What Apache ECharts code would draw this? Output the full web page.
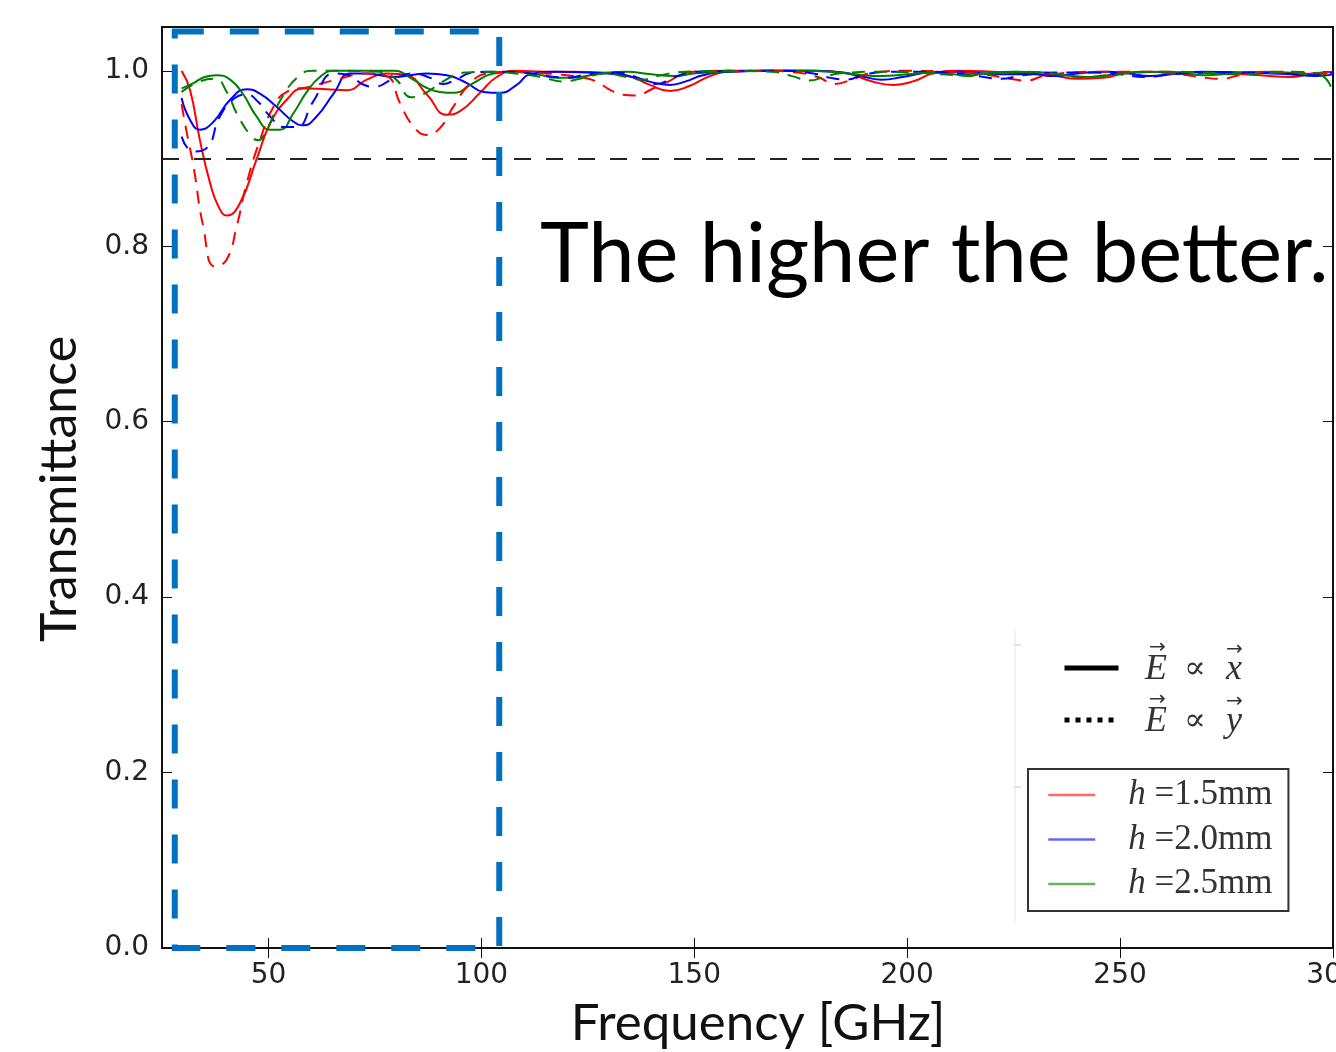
<!DOCTYPE html>
<html>
<head>
<meta charset="utf-8">
<script src="https://cdn.jsdelivr.net/npm/echarts@6/dist/echarts.min.js"></script>
<style>
html,body{margin:0;padding:0;background:#fff;}
#chart{width:1336px;height:1052px;}
</style>
</head>
<body>
<div id="chart"></div>
<script>
// ---- axis ticks ----
const freqTicks = [50, 100, 150, 200, 250, 300];
const transTicks = [0, 0.2, 0.4, 0.6, 0.8, 1.0];
const freqRange = [25, 300];
const transRange = [0, 1.05];

// ---- reference level and highlighted band ----
const thresholdT = 0.9;
const focusFreq = [28, 104.2];
const focusT = [-0.002, 1.045];

// ---- legend names ----
const polNames = ['E \u221D x', 'E \u221D y'];
const polSymbols = ['x', 'y'];
const heightNames = ['h=1.5mm', 'h=2.0mm', 'h=2.5mm'];

// ---- data: [frequency GHz, transmittance] ----
const h15_Ex = [[29.6,1.000],[31.6,0.978],[33.9,0.921],[36.3,0.872],[38.3,0.845],[40.2,0.835],[43.3,0.849],[47.2,0.899],[50.4,0.940],[54.3,0.967],[58.2,0.980],[63.7,0.979],[68.4,0.978],[73.1,0.990],[77.8,0.997],[82.5,0.995],[87.2,0.973],[91.9,0.950],[95.0,0.954],[99.7,0.975],[103.6,0.993],[108,1.0],[115,0.999],[122,0.999],[128,0.998],[134,0.995],[139.6,0.984],[144.3,0.977],[149,0.983],[153.7,0.994],[158.4,0.999],[168,1.0],[178,1.0],[186,0.997],[191,0.989],[196.8,0.984],[202,0.989],[206,0.997],[212,1.0],[220,0.999],[228,0.997],[234,0.995],[240,0.991],[246,0.992],[252,0.998],[260,0.999],[268,0.998],[276,0.997],[283,0.995],[290,0.993],[295,0.997],[300,0.999]];
const h15_Ey = [[29.6,0.962],[30.8,0.930],[32.4,0.891],[34.7,0.822],[37.4,0.777],[40.2,0.785],[42.5,0.822],[44.9,0.872],[48.0,0.921],[51.2,0.959],[54.3,0.976],[59.8,0.982],[66.0,0.990],[73.1,0.997],[77.8,0.994],[80.9,0.963],[84.0,0.937],[87.2,0.927],[90.3,0.935],[93.4,0.959],[97.4,0.986],[101.3,0.997],[106.7,0.999],[112,0.998],[118,0.996],[123,0.993],[127,0.988],[130,0.979],[133,0.973],[136,0.972],[140,0.979],[144,0.988],[148.2,0.998],[156,1.0],[166,1.0],[174,0.998],[179,0.993],[183,0.985],[187,0.990],[192,0.998],[200,1.0],[210,0.999],[218,0.996],[224,0.991],[228,0.989],[232,0.994],[238,0.998],[246,0.999],[255,0.999],[264,0.996],[270,0.992],[274,0.991],[278,0.995],[285,0.999],[293,0.998],[300,0.996]];
const h20_Ex = [[29.6,0.969],[31.6,0.944],[33.9,0.933],[37.1,0.942],[41.0,0.967],[44.9,0.979],[48.0,0.974],[51.9,0.959],[55.9,0.942],[58.2,0.938],[61.3,0.948],[65.3,0.974],[69.2,0.997],[73.1,0.997],[79.4,0.993],[87.2,0.997],[91.9,0.995],[96.6,0.986],[100.5,0.976],[104.4,0.975],[108.3,0.984],[111.4,0.996],[117.7,0.999],[125,0.998],[132,0.996],[137,0.991],[141,0.986],[144.3,0.984],[148,0.988],[152,0.995],[158,0.999],[168,1.0],[178,1.0],[185,0.998],[190,0.993],[194,0.990],[199,0.993],[205,0.998],[212,0.999],[218,0.997],[224,0.996],[230,0.996],[234,0.994],[240,0.997],[247,0.999],[252,0.997],[257,0.994],[262,0.996],[270,0.999],[280,0.998],[290,0.996],[296,0.994],[300,0.996]];
const h20_Ey = [[29.6,0.925],[32.4,0.908],[35.5,0.912],[38.6,0.948],[42.1,0.969],[44.9,0.973],[47.5,0.965],[50.4,0.948],[53.5,0.936],[56.6,0.936],[60.5,0.965],[65.3,0.997],[69,0.995],[72,0.985],[75,0.982],[79,0.990],[84,0.997],[88,0.992],[91,0.985],[94,0.990],[98,0.998],[104,0.999],[110,0.998],[116,0.994],[120,0.992],[125,0.996],[132,0.998],[138,0.990],[141,0.985],[145,0.992],[150,0.999],[160,1.0],[170,1.0],[178,0.997],[182,0.992],[186,0.990],[190,0.996],[197,0.999],[205,0.999],[212,0.997],[218,0.993],[222,0.991],[227,0.995],[235,0.998],[243,0.998],[250,0.996],[256,0.993],[262,0.996],[270,0.998],[280,0.998],[288,0.997],[295,0.995],[300,0.998]];
const h25_Ex = [[29.6,0.980],[32.4,0.986],[35,0.993],[37.8,0.995],[41,0.990],[44.1,0.973],[47.2,0.948],[50.4,0.933],[52.7,0.933],[55.9,0.952],[59,0.976],[62.1,0.993],[65.3,1.0],[72,1.0],[79.4,1.0],[84,0.990],[87,0.981],[90.3,0.976],[93.4,0.975],[98.1,0.986],[102.8,0.997],[107.5,0.999],[113,0.996],[118,0.992],[123,0.993],[128,0.997],[134,0.999],[140,0.996],[145,0.994],[150,0.997],[156,0.999],[165,1.0],[175,1.0],[182,0.999],[188,0.996],[194,0.994],[200,0.996],[206,0.998],[211,0.996],[214,0.994],[218,0.997],[225,0.999],[232,0.998],[237,0.995],[243,0.993],[249,0.996],[256,0.999],[264,0.997],[270,0.995],[276,0.997],[284,0.999],[292,0.997],[297,0.995],[299.5,0.982]];
const h25_Ey = [[29.6,0.976],[33.9,0.988],[37.5,0.991],[40.2,0.976],[42.5,0.952],[45.7,0.927],[47.6,0.921],[49.6,0.933],[53.1,0.969],[57.4,0.995],[60.5,1.0],[68,1.0],[76,0.999],[80,0.990],[83.5,0.970],[87,0.975],[91,0.988],[96,0.998],[102,0.999],[108,0.997],[114,0.993],[119,0.988],[124,0.992],[129,0.997],[134,0.993],[138,0.990],[142,0.995],[148,0.999],[158,1.0],[168,0.999],[173,0.994],[177,0.989],[181,0.994],[186,0.998],[194,0.999],[202,0.998],[208,0.996],[214,0.995],[220,0.997],[227,0.999],[234,0.997],[241,0.993],[247,0.995],[254,0.998],[262,0.999],[270,0.998],[277,0.996],[284,0.997],[291,0.999],[297,0.997],[300,0.996]];

// ---- styling ----
const RED = '#ff0000', BLUE = '#0000ff', GREEN = '#008000';
const curveDefs = [
  { name: heightNames[0], color: RED,   dashed: false, data: h15_Ex },
  { name: heightNames[1], color: BLUE,  dashed: false, data: h20_Ex },
  { name: heightNames[2], color: GREEN, dashed: false, data: h25_Ex },
  { name: heightNames[0], color: RED,   dashed: true,  data: h15_Ey },
  { name: heightNames[1], color: BLUE,  dashed: true,  data: h20_Ey },
  { name: heightNames[2], color: GREEN, dashed: true,  data: h25_Ey }
];

const tickFont = { fontFamily: 'DejaVu Sans', fontSize: 28, color: '#222' };
const axisLineStyle = { color: '#111', width: 2 };

const series = curveDefs.map(c => ({
  type: 'line',
  name: c.name,
  data: c.data,
  xAxisIndex: 0, yAxisIndex: 0,
  showSymbol: false,
  symbol: 'none',
  smooth: 0.5,
  color: c.color,
  lineStyle: { color: c.color, width: 2, type: c.dashed ? [13, 9] : 'solid' },
  emphasis: { disabled: true },
  silent: true
}));

// threshold line + highlighted band carrier
series.push({
  type: 'line',
  name: 'ref',
  data: [],
  xAxisIndex: 0, yAxisIndex: 0,
  clip: false,
  silent: true,
  markLine: {
    silent: true,
    symbol: 'none',
    label: { show: false },
    lineStyle: { color: '#222', width: 2, type: [17, 15] },
    emphasis: { disabled: true },
    data: [{ yAxis: thresholdT }]
  },
  markArea: {
    silent: true,
    z: 10,
    itemStyle: { color: 'rgba(0,0,0,0)', borderColor: '#0070C0', borderWidth: 6, borderType: [29, 26] },
    emphasis: { disabled: true },
    data: [[{ coord: [focusFreq[0], focusT[1]] }, { coord: [focusFreq[1], focusT[0]] }]]
  }
});

// polarization legend carriers
series.push({ type: 'line', name: polNames[0], data: [], symbol: 'none', color: '#000', lineStyle: { color: '#000', width: 5, type: 'solid' } });
series.push({ type: 'line', name: polNames[1], data: [], symbol: 'none', color: '#000', lineStyle: { color: '#000', width: 5, type: [5, 6] } });

// polarization labels drawn as text (vector arrows placed above letters)
const polRowsY = [670, 722];
const polGraphics = [];
polRowsY.forEach((y, i) => {
  polGraphics.push(
    { type: 'text', x: 1145, y: y, silent: true, style: { text: 'E', font: 'italic 36px "Liberation Serif"', fill: '#333', verticalAlign: 'middle' } },
    { type: 'text', x: 1149, y: y - 22, silent: true, style: { text: '\u2192', font: '20px "DejaVu Sans"', fill: '#333', verticalAlign: 'middle' } },
    { type: 'text', x: 1184, y: y, silent: true, style: { text: '\u221D', font: '32px "DejaVu Serif"', fill: '#333', verticalAlign: 'middle' } },
    { type: 'text', x: 1226, y: y, silent: true, style: { text: polSymbols[i], font: 'italic 36px "Liberation Serif"', fill: '#333', verticalAlign: 'middle' } },
    { type: 'text', x: 1226, y: y - 20, silent: true, style: { text: '\u2192', font: '20px "DejaVu Sans"', fill: '#333', verticalAlign: 'middle' } }
  );
});

const option = {
  backgroundColor: '#fff',
  animation: false,
  grid: { left: 162, right: 3, top: 27, bottom: 104, containLabel: false, outerBoundsMode: 'none',
          show: true, borderColor: '#111', borderWidth: 2, backgroundColor: 'transparent' },
  xAxis: [{
    type: 'value', min: freqRange[0], max: freqRange[1], position: 'bottom',
    axisLine: { show: true, lineStyle: axisLineStyle },
    axisTick: { show: true, inside: true, length: 10, customValues: freqTicks, lineStyle: { color: '#111', width: 1 } },
    axisLabel: { show: true, customValues: freqTicks, margin: 14, ...tickFont },
    splitLine: { show: false }
  }, {
    type: 'value', min: freqRange[0], max: freqRange[1], position: 'top',
    axisLine: { show: true, lineStyle: axisLineStyle },
    axisTick: { show: true, inside: true, length: 10, customValues: freqTicks, lineStyle: { color: '#111', width: 1 } },
    axisLabel: { show: false },
    splitLine: { show: false }
  }],
  yAxis: [{
    type: 'value', min: transRange[0], max: transRange[1], position: 'left',
    axisLine: { show: true, lineStyle: axisLineStyle },
    axisTick: { show: true, inside: true, length: 10, customValues: transTicks, lineStyle: { color: '#111', width: 1 } },
    axisLabel: { show: true, customValues: transTicks, margin: 13, formatter: v => v.toFixed(1), ...tickFont },
    splitLine: { show: false }
  }, {
    type: 'value', min: transRange[0], max: transRange[1], position: 'right',
    axisLine: { show: true, lineStyle: axisLineStyle },
    axisTick: { show: true, inside: true, length: 10, customValues: transTicks, lineStyle: { color: '#111', width: 1 } },
    axisLabel: { show: false },
    splitLine: { show: false }
  }],
  legend: [{
    data: polNames,
    orient: 'vertical',
    left: 1062, top: 648,
    padding: 0,
    itemWidth: 54, itemHeight: 14, itemGap: 12,
    selectedMode: false,
    itemStyle: { opacity: 0 },
    lineStyle: { width: 5 },
    formatter: () => '{s| }',
    textStyle: { fontSize: 30, lineHeight: 40, rich: { s: { width: 10 } } }
  }, {
    data: heightNames,
    orient: 'vertical',
    left: 1028, top: 769,
    padding: [8, 16, 9, 19],
    backgroundColor: '#fff',
    borderColor: '#333', borderWidth: 2, borderRadius: 0,
    itemWidth: 47, itemHeight: 12, itemGap: 8.5,
    selectedMode: false,
    itemStyle: { opacity: 0 },
    lineStyle: { width: 2.5, opacity: 0.6, type: 'solid' },
    formatter: n => '{s| }{i|h} ' + n.slice(1),
    textStyle: {
      fontFamily: 'Liberation Serif', fontSize: 35, color: '#333', lineHeight: 36,
      rich: {
        s: { width: 28 },
        i: { fontStyle: 'italic', fontFamily: 'Liberation Serif', fontSize: 35, color: '#333' }
      }
    }
  }],
  graphic: [
    { type: 'text', left: 540, top: 214, silent: true,
      style: { text: 'The higher the better.', font: '83px Lato', fill: '#000' } },
    { type: 'text', x: 60, y: 489, rotation: Math.PI / 2, silent: true,
      style: { text: 'Transmittance', font: '50px Lato', fill: '#111', align: 'center', verticalAlign: 'middle' } },
    { type: 'text', x: 758, y: 1024, silent: true,
      style: { text: 'Frequency [GHz]', font: '51px Lato', fill: '#111', align: 'center', verticalAlign: 'middle' } },
    { type: 'line', silent: true, shape: { x1: 1015, y1: 630, x2: 1015, y2: 922 }, style: { stroke: '#e4e4e4', lineWidth: 1 } },
    { type: 'line', silent: true, shape: { x1: 1015, y1: 645, x2: 1021, y2: 645 }, style: { stroke: '#c8c8c8', lineWidth: 1 } },
    { type: 'line', silent: true, shape: { x1: 1015, y1: 787, x2: 1021, y2: 787 }, style: { stroke: '#c8c8c8', lineWidth: 1 } },
    ...polGraphics
  ],
  series: series
};

const chart = echarts.init(document.getElementById('chart'), null, { renderer: 'canvas' });
chart.setOption(option);
</script>
</body>
</html>
